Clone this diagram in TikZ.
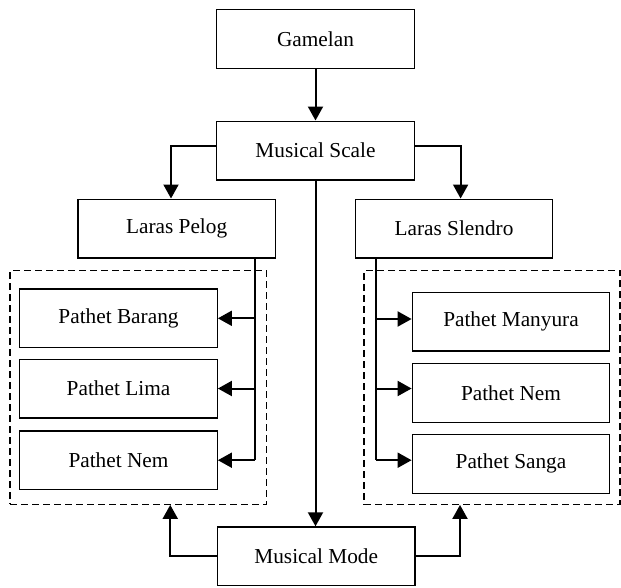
\documentclass[tikz,border=0pt]{standalone}
\usepackage{fontspec}
\setmainfont{Liberation Serif}
\usetikzlibrary{arrows.meta}
\begin{document}
\begin{tikzpicture}[x=1pt,y=-1pt,
  box/.style={draw,line width=1.3pt,minimum width=197.5pt,minimum height=58.7pt,inner sep=0pt,
    font=\fontsize{21.3}{25}\selectfont},
  grp/.style={draw,line width=1.2pt,dash pattern=on 7pt off 4pt,inner sep=0pt},
  conn/.style={line width=2pt},
  arr/.style={conn,-{Triangle[length=14pt,width=15pt]}}]
\useasboundingbox (0,0) rectangle (621,587);
\node[box] (gam) at (315.5,38.8) {Gamelan};
\node[box] (ms) at (315.5,150.5) {Musical Scale};
\node[box] (lp) at (176.6,228.5) {Laras Pelog};
\node[box] (ls) at (454,228.5) {Laras Slendro};
\node[grp,minimum width=256.5pt,minimum height=233.6pt] (ldash) at (138.25,387.5) {};
\node[grp,minimum width=256pt,minimum height=233.6pt] (rdash) at (492,387.5) {};
\node[box] (barang) at (118.5,318.3) {Pathet Barang};
\node[box] (lima) at (118.5,388.5) {Pathet Lima};
\node[box] (nemL) at (118.5,460.2) {Pathet Nem};
\node[box] (many) at (511,321.5) {Pathet Manyura};
\node[box] (nemR) at (511,392.8) {Pathet Nem};
\node[box] (sanga) at (511,463.8) {Pathet Sanga};
\node[box] (mm) at (316.2,556.3) {Musical Mode};
\draw[arr] (gam) -- (ms);
\draw[arr] ([yshift=4.8pt]ms.west) -| ([xshift=-5.6pt]lp.north);
\draw[arr] ([yshift=4.8pt]ms.east) -| ([xshift=6.6pt]ls.north);
\draw[arr] (ms.south) -- (ms.south |- mm.north);
\coordinate (lbus) at (254.7,258);
\coordinate (rbus) at (376.2,258);
\draw[conn] (lbus) -- (lbus |- nemL.east);
\draw[arr] (lbus |- barang.east) -- (barang.east);
\draw[arr] (lbus |- lima.east) -- (lima.east);
\draw[arr] (lbus |- nemL.east) -- (nemL.east);
\draw[conn] (rbus) -- (rbus |- 0,460.2);
\draw[arr] (rbus |- 0,319) -- ([yshift=2.5pt]many.west);
\draw[arr] (rbus |- 0,388.5) -- ([yshift=4.3pt]nemR.west);
\draw[arr] (rbus |- 0,460.2) -- ([yshift=3.6pt]sanga.west);
\draw[arr] (mm.west) -| ([xshift=32pt]ldash.south);
\draw[arr] (mm.east) -| ([xshift=-32pt]rdash.south);
\end{tikzpicture}
\end{document}
